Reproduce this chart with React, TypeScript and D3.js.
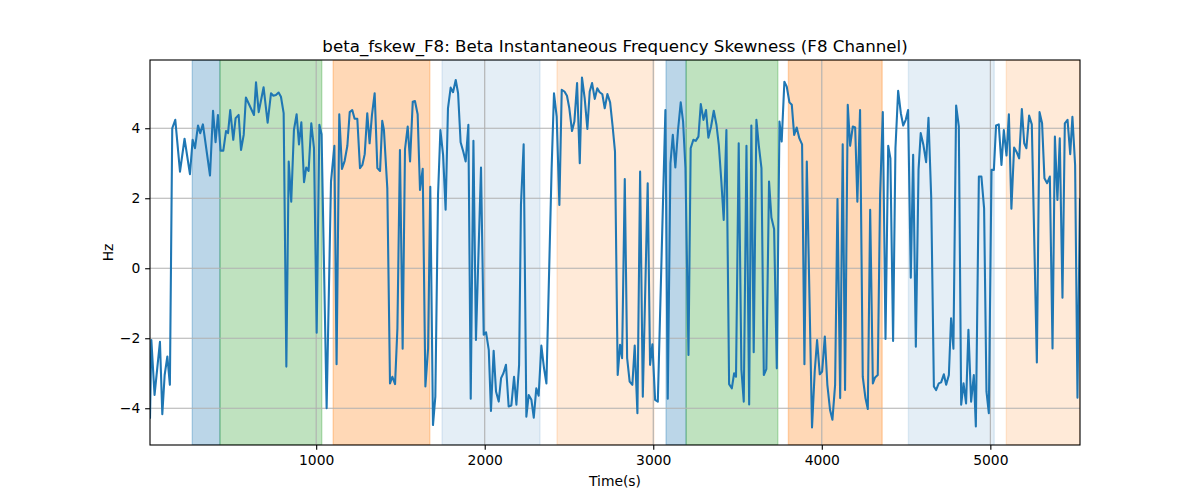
import * as d3 from 'd3'
import React from 'react'

// trace samples: time (s) and skewness (Hz)
const timeSec = [
    14, 22, 41, 73, 87, 101, 117, 132, 146, 164, 192, 219, 251, 267, 281, 299, 312, 328, 370, 388,
    403, 417, 433, 449, 465, 477, 490, 508, 522, 540, 554, 570, 583, 631, 643, 659, 688, 712,
    732, 746, 761, 777, 791, 807, 823, 837, 852, 868, 884, 898, 912, 928, 941, 955, 971, 987,
    1003, 1019, 1032, 1062, 1088, 1108, 1121, 1137, 1153, 1169, 1185, 1199, 1214, 1228, 1244,
    1260, 1274, 1288, 1303, 1317, 1331, 1347, 1363, 1379, 1392,
    1402, 1422, 1438, 1452, 1468, 1482, 1497, 1513, 1527, 1543, 1557, 1573, 1586, 1602, 1616,
    1632, 1648, 1664, 1677, 1693, 1707, 1723, 1737, 1753, 1768, 1782, 1798, 1812, 1828, 1842,
    1857, 1873, 1887, 1903, 1917, 1933, 1948, 1978, 1994, 2008, 2024, 2037, 2053, 2067, 2083,
    2097, 2111,
    2126, 2142, 2158, 2174, 2188, 2204, 2215, 2231, 2247, 2261, 2277, 2291, 2306, 2320, 2336,
    2352, 2366, 2397, 2411, 2427, 2443, 2457, 2473, 2488, 2502, 2518, 2532, 2548, 2564, 2577,
    2593, 2609, 2623, 2637, 2653, 2668, 2682, 2698, 2712, 2728, 2744, 2759, 2773, 2789, 2803,
    2815, 2831, 2845, 2860, 2876, 2890, 2906, 2922, 2938, 2967, 2981, 2995, 3011, 3027, 3072,
    3086, 3102, 3116, 3131, 3147, 3163, 3177, 3191, 3209, 3222, 3238, 3252, 3268, 3282, 3298,
    3313, 3327, 3343, 3359, 3375, 3389, 3404, 3418, 3434, 3450, 3466, 3480, 3491, 3507,
    3523, 3537, 3553, 3569, 3582, 3596, 3612, 3626, 3642, 3656, 3671, 3687, 3701, 3717, 3733,
    3749, 3762, 3778, 3792, 3808, 3822, 3836, 3851, 3867, 3883, 3897, 3911, 3942, 3958, 3972,
    3988, 4002, 4018, 4033, 4049, 4063, 4079, 4093, 4109, 4124, 4138, 4154, 4168, 4184, 4198,
    4211,
    4227, 4243, 4259, 4273, 4287, 4303, 4316, 4332, 4346, 4362, 4378, 4394, 4407, 4423, 4437,
    4453, 4469, 4483, 4498, 4512, 4528, 4542, 4558, 4574, 4587, 4603, 4619, 4633, 4649, 4665,
    4678, 4694, 4708, 4724, 4738, 4754, 4767, 4781, 4797, 4813, 4827, 4841, 4856, 4870, 4886,
    4902, 4914,
    4932, 4947, 4963, 4977, 4991, 5007, 5021, 5034, 5050, 5066, 5080, 5096, 5110, 5125, 5141,
    5155, 5171, 5187, 5201, 5214, 5230, 5246, 5276, 5292, 5307, 5321, 5337, 5353, 5369, 5383,
    5398, 5412, 5428, 5442, 5458, 5474, 5487, 5503, 5517, 5532,
]

const skewHz = [
    -4.3, -2.05, -3.62, -2.1, -4.17, -3.05, -2.52, -3.33, 4.0, 4.24, 2.76, 3.7, 2.69, 3.67, 3.43,
    4.08, 3.86, 4.11, 2.65, 4.5, 3.6, 4.38, 3.36, 3.36, 3.92, 3.86, 4.52, 3.67, 4.29, 4.38, 3.38,
    3.81, 4.88, 4.38, 5.31, 4.46, 5.17, 4.16,
    5.0, 4.93, 4.95, 5.02, 4.9, 4.43, -2.81, 3.05, 1.9, 3.95, 4.4, 3.54, 4.17, 2.46, 2.88, 2.78,
    4.14, 3.43, -1.84, 4.1, 3.83, -4.0, 2.48, 3.5, -2.74, 4.4, 2.84, 3.07, 3.5, 4.46, 4.52, 4.27,
    4.27, 2.86, 2.95, 3.26, 4.43, 3.57, 4.38, 5.0, 2.86, 2.78, 4.21,
    3.95, 2.29, -3.29, -3.1, -3.31, -1.71, 3.38, -2.3, 3.4, 4.05, 3.05, 4.76, 4.78, 4.4, 2.24,
    2.84, -3.38, -2.29, 2.33, -4.48, -3.67, 2.1, 3.95, 3.24, 1.67, 4.57, 5.16, 5.03, 5.38, 5.0,
    3.6, 3.33, 3.05, 4.1, -3.73, 3.64, -2.05, 2.88, -1.9, -1.83, -2.33, -4.08, -2.36, -3.52,
    -3.81, -3.14, -3.0,
    -2.76, -3.95, -3.92, -3.1, -3.9, -2.76, 1.81, 3.54, -4.24, -3.62, -3.76, -4.27, -3.43, -3.64,
    -2.21, -2.86, -3.29, 2.86, 5.0, 4.33, 1.81, 5.1, 5.05, 4.93, 4.57, 3.92, 4.19, 5.29, 3.0,
    5.45, 4.86, 3.98, 5.05, 5.29, 4.84, 5.14, 5.03, 4.97, 4.57, 4.98, 4.74, 4.05, 3.33, -3.05,
    -2.19,
    -2.57, 2.55, -2.57, -3.24, -3.33, -2.21, -4.14, 2.76, -3.67, 2.43, -2.76, -2.17, -3.76, -3.81,
    4.52, -3.73, 3.0, 3.81, 2.88, 3.95, 4.74, 4.19, 2.86, -2.48, 3.43, 3.67, 3.64, 3.76, 4.69,
    4.24, 4.52, 3.73, 4.05, 4.5, 4.1, 3.52, 2.48, 1.38, 3.95, -3.31, -3.43, -3.0, -3.1, 3.57,
    -2.9, -3.81, 3.5, -3.89, 4.08, -2.4, 4.24, 3.52, 2.86, -3.05, -2.88, 2.48, 1.45, 1.12, -2.86,
    4.19, 3.62, 5.33, 5.19, 4.74, 4.67, 3.81, 4.02, 3.71, 3.54, -2.74, 3.05, -4.55, -2.95, -2.05,
    -3.03, -2.95, -1.95, -3.33, -4.05, -4.33, -3.33, 1.98, -3.71, 3.54, -3.48, 4.67, 3.5, 4.05,
    4.02, 1.9,
    4.52, -3.1, -3.71, -4.02, 1.67, -3.29, -3.12, -3.05, 2.1, 4.46, -2.02, 3.5, 3.14, -2.08, 3.43,
    5.07, 4.43, 4.08, 4.24, 4.52, -0.27, 3.24, -2.24, 2.81, 3.86, 3.52, 3.03, 4.3, 2.05, -3.38,
    -3.48, -3.29, -3.26, -3.03, -3.33, -3.05, -1.43, -2.3, 4.65, 4.05, -3.9, -3.29, -3.86, -1.76,
    -3.81, -3.05, -4.52,
    2.62, 2.62, 1.71, -3.52, -4.14, 2.81, 2.81, 4.08, 4.11, 2.95, 3.95, 3.22, 4.4, 1.7, 3.45, 3.33,
    3.14, 4.55, 3.57, 3.43, 4.36, 4.11, -2.69, 4.46, 4.14, 2.57, 2.43, 2.62, -2.29, 3.76, 1.95,
    3.71, -0.84, 4.14, 4.24, 3.26, 4.33, 2.95, -3.7, 2.0,
]

// shaded stages (s)
const regionStart = [265, 429, 1101, 1747, 2429, 3076, 3195, 3802, 4514, 5095]
const regionEnd = [429, 1033, 1674, 2328, 3004, 3195, 3739, 4358, 5023, 5532]
const regionKind = ['a', 'b', 'c', 'd', 'e', 'a', 'b', 'c', 'd', 'e']

const xTicks = [1000, 2000, 3000, 4000, 5000]
const yTicks = [-4, -2, 0, 2, 4]

const kindColor: { [key: string]: string } = {
    a: 'rgba(31,119,180,0.3)',
    b: 'rgba(44,160,44,0.3)',
    c: 'rgba(255,127,14,0.3)',
    d: 'rgba(31,119,180,0.12)',
    e: 'rgba(255,127,14,0.16)',
}

const W = 1200
const H = 500
const margin = { top: 60, right: 120, bottom: 55, left: 150 }
const font = '"DejaVu Sans", sans-serif'
const pt = 100 / 72

const App: React.FC = () => {
    const svgRef = React.useRef<SVGSVGElement | null>(null)

    React.useEffect(() => {
        const svg = d3.select(svgRef.current)
        svg.selectAll('*').remove()

        const data = timeSec.map((t, i) => ({ t, v: skewHz[i] }))

        const x = d3
            .scaleLinear()
            .domain(d3.extent(timeSec) as [number, number])
            .range([margin.left, W - margin.right])

        // matplotlib-like 5% padding on y
        const [lo, hi] = d3.extent(skewHz) as [number, number]
        const pad = (hi - lo) * 0.05
        const y = d3
            .scaleLinear()
            .domain([lo - pad, hi + pad])
            .range([H - margin.bottom, margin.top])

        svg.append('defs')
            .append('clipPath')
            .attr('id', 'plot-clip')
            .append('rect')
            .attr('x', margin.left)
            .attr('y', margin.top)
            .attr('width', W - margin.left - margin.right)
            .attr('height', H - margin.top - margin.bottom)

        const plot = svg.append('g').attr('clip-path', 'url(#plot-clip)')

        // stage spans
        plot.selectAll('rect.span')
            .data(regionStart)
            .join('rect')
            .attr('class', 'span')
            .attr('x', (d) => x(d))
            .attr('y', margin.top)
            .attr('width', (d, i) => x(regionEnd[i]) - x(d))
            .attr('height', H - margin.top - margin.bottom)
            .attr('fill', (d, i) => kindColor[regionKind[i]])
            .attr('stroke', (d, i) => kindColor[regionKind[i]])
            .attr('stroke-width', pt)

        // grid
        const gridColor = '#b0b0b0'
        plot.selectAll('line.gx')
            .data(xTicks)
            .join('line')
            .attr('x1', (d) => x(d))
            .attr('x2', (d) => x(d))
            .attr('y1', margin.top)
            .attr('y2', H - margin.bottom)
            .attr('stroke', gridColor)
            .attr('stroke-width', 0.8 * pt)
        plot.selectAll('line.gy')
            .data(yTicks)
            .join('line')
            .attr('x1', margin.left)
            .attr('x2', W - margin.right)
            .attr('y1', (d) => y(d))
            .attr('y2', (d) => y(d))
            .attr('stroke', gridColor)
            .attr('stroke-width', 0.8 * pt)

        // trace
        const line = d3
            .line<{ t: number; v: number }>()
            .x((d) => x(d.t))
            .y((d) => y(d.v))
        plot.append('path')
            .datum(data)
            .attr('d', line)
            .attr('fill', 'none')
            .attr('stroke', '#1f77b4')
            .attr('stroke-width', 1.5 * pt)
            .attr('stroke-linejoin', 'round')

        // axes
        const tick = 3.5 * pt
        const fmt = (d: d3.NumberValue) => String(d).replace('-', '\u2212')
        const xAxis = svg
            .append('g')
            .attr('transform', `translate(0,${H - margin.bottom})`)
            .call(d3.axisBottom(x).tickValues(xTicks).tickSize(tick).tickPadding(tick).tickFormat(fmt))
        const yAxis = svg
            .append('g')
            .attr('transform', `translate(${margin.left},0)`)
            .call(d3.axisLeft(y).tickValues(yTicks).tickSize(tick).tickPadding(tick).tickFormat(fmt))
        ;[xAxis, yAxis].forEach((ax) => {
            ax.select('.domain').remove()
            ax.selectAll('line').attr('stroke', '#000').attr('stroke-width', 0.8 * pt)
            ax.selectAll('text')
                .attr('fill', '#000')
                .style('font-family', font)
                .style('font-size', `${10 * pt}px`)
        })

        // spines
        svg.append('rect')
            .attr('x', margin.left)
            .attr('y', margin.top)
            .attr('width', W - margin.left - margin.right)
            .attr('height', H - margin.top - margin.bottom)
            .attr('fill', 'none')
            .attr('stroke', '#000')
            .attr('stroke-width', 0.8 * pt)

        const cx = (margin.left + W - margin.right) / 2
        svg.append('text')
            .attr('x', cx)
            .attr('y', margin.top - 8.3)
            .attr('text-anchor', 'middle')
            .style('font-family', font)
            .style('font-size', `${12 * pt}px`)
            .text('beta_fskew_F8: Beta Instantaneous Frequency Skewness (F8 Channel)')

        svg.append('text')
            .attr('x', cx)
            .attr('y', 486)
            .attr('text-anchor', 'middle')
            .style('font-family', font)
            .style('font-size', `${10 * pt}px`)
            .text('Time(s)')

        svg.append('text')
            .attr('transform', `translate(113,${(margin.top + H - margin.bottom) / 2}) rotate(-90)`)
            .attr('text-anchor', 'middle')
            .style('font-family', font)
            .style('font-size', `${10 * pt}px`)
            .text('Hz')
    }, [])

    return (
        <div style={{ position: 'absolute', left: 0, top: 0 }}>
            <svg ref={svgRef} width={W} height={H} style={{ display: 'block', background: '#fff' }} />
        </div>
    )
}

export default App
